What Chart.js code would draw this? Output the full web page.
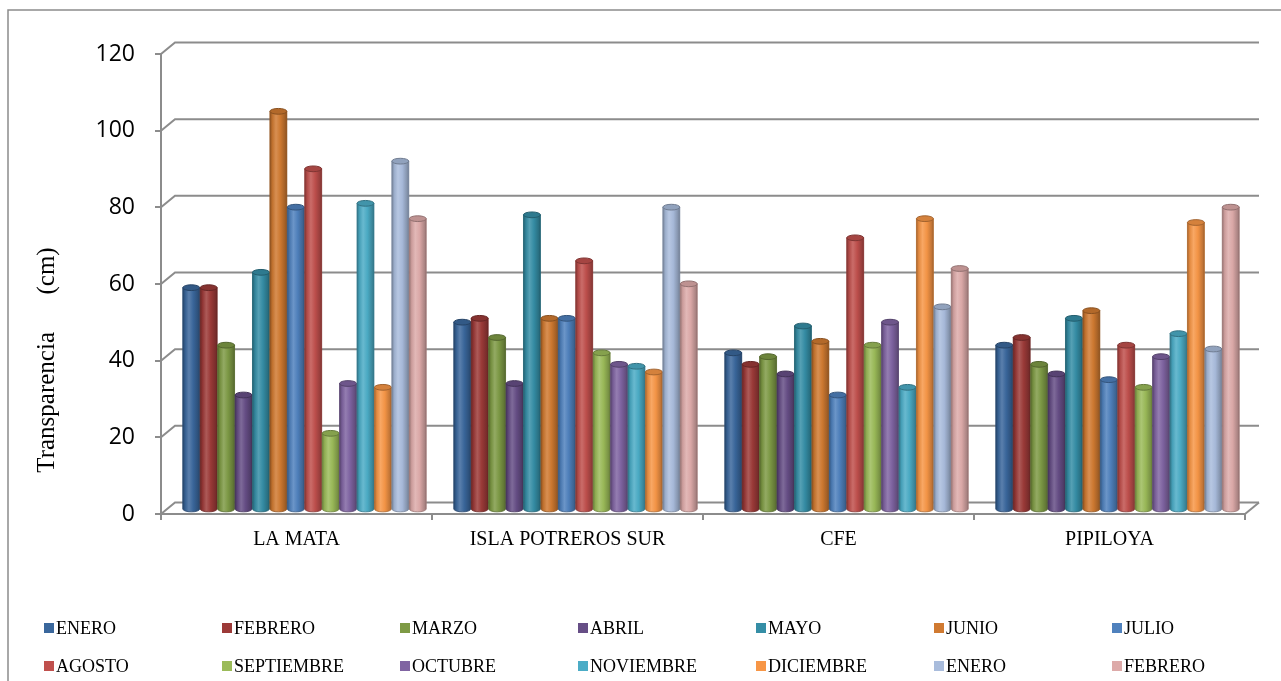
<!DOCTYPE html>
<html lang="es">
<head>
<meta charset="utf-8">
<title>Transparencia por estación</title>
<script src="https://cdn.jsdelivr.net/npm/chart.js@4.4.1/dist/chart.umd.min.js"></script>
<style>
  html, body { margin: 0; padding: 0; background: #ffffff; }
  #wrap { width: 1281px; height: 681px; position: relative; }
  canvas { display: block; }
</style>
</head>
<body>
<div id="wrap"><canvas id="chart" width="1281" height="681"></canvas></div>
<script>
// Estaciones de muestreo (categorías del eje X)
const estaciones = ['LA MATA', 'ISLA POTREROS SUR', 'CFE', 'PIPILOYA'];

// Meses de muestreo (series)
const meses = ['ENERO', 'FEBRERO', 'MARZO', 'ABRIL', 'MAYO', 'JUNIO', 'JULIO',
               'AGOSTO', 'SEPTIEMBRE', 'OCTUBRE', 'NOVIEMBRE', 'DICIEMBRE', 'ENERO', 'FEBRERO'];

// Transparencia (cm) por estación, en el orden de los meses
const laMata          = [58, 58, 43, 30, 62, 104, 79, 89, 20, 33, 80, 32, 91, 76];
const islaPotrerosSur = [49, 50, 45, 33, 77, 50, 50, 65, 41, 38, 37.5, 36, 79, 59];
const cfe             = [41, 38, 40, 35.5, 48, 44, 30, 71, 43, 49, 32, 76, 53, 63];
const pipiloya        = [43, 45, 38, 35.5, 50, 52, 34, 43, 32, 40, 46, 75, 42, 79];

// Marcas del eje Y
const ticksY = [0, 20, 40, 60, 80, 100, 120];

// Colores de cada serie
const coloresMes = ['#3A679C', '#9C3A38', '#7E9A45', '#664E86', '#358EA6', '#D07A31', '#4F81BD',
                    '#C0504D', '#9BBB59', '#8064A2', '#4BACC6', '#F79646', '#A9BCDC', '#DDAAA9'];

const porEstacion = [laMata, islaPotrerosSur, cfe, pipiloya];
const datasets = meses.map((mes, i) => ({
  label: mes,
  data: porEstacion.map(serie => serie[i]),
  backgroundColor: coloresMes[i],
  borderWidth: 0
}));

const GRIS = '#8c8c8c';
const PROF_X = 14, PROF_Y = -11.5;   // profundidad de la pared del fondo
const BARRA_DX = 8, BARRA_DY = -4;   // plano en el que se apoyan los cilindros

function rgb(hex) {
  const n = parseInt(hex.slice(1), 16);
  return [(n >> 16) & 255, (n >> 8) & 255, n & 255];
}
function tono(hex, f) {
  const c = rgb(hex).map(v => f <= 1 ? v * f : v + (255 - v) * (f - 1));
  return 'rgb(' + c.map(v => Math.round(Math.max(0, Math.min(255, v)))).join(',') + ')';
}

const efecto3D = {
  id: 'efecto3D',
  beforeDraw(chart) {
    const ctx = chart.ctx;
    ctx.save();
    ctx.fillStyle = '#ffffff';
    ctx.fillRect(0, 0, chart.width, chart.height);
    ctx.strokeStyle = GRIS;
    ctx.lineWidth = 1.5;
    ctx.beginPath();
    ctx.moveTo(8, chart.height + 2);
    ctx.lineTo(8, 10);
    ctx.lineTo(chart.width + 2, 10);
    ctx.stroke();
    ctx.restore();
  },
  beforeDatasetsDraw(chart) {
    const ctx = chart.ctx;
    const y = chart.scales.y, x = chart.scales.x;
    const izq = chart.chartArea.left, der = chart.chartArea.right;
    const finFondo = der + PROF_X;
    ctx.save();
    ctx.strokeStyle = GRIS;
    ctx.lineWidth = 2;
    ctx.lineJoin = 'miter';
    // Pared del fondo: líneas de división con su diagonal hacia el eje frontal
    y.ticks.forEach(t => {
      const py = y.getPixelForValue(t.value);
      ctx.beginPath();
      ctx.moveTo(izq, py);
      ctx.lineTo(izq + PROF_X, py + PROF_Y);
      ctx.lineTo(finFondo, py + PROF_Y);
      ctx.stroke();
    });
    // Borde derecho del piso
    const base = y.getPixelForValue(0);
    ctx.beginPath();
    ctx.moveTo(der, base);
    ctx.lineTo(der + PROF_X, base + PROF_Y);
    ctx.stroke();
    ctx.restore();

    ctx.save();
    ctx.translate(BARRA_DX, BARRA_DY);
  },
  afterDatasetsDraw(chart) {
    const ctx = chart.ctx;
    chart.data.datasets.forEach((ds, di) => {
      const meta = chart.getDatasetMeta(di);
      const c = ds.backgroundColor;
      meta.data.forEach(el => {
        const p = el.getProps(['x', 'y', 'base', 'width'], true);
        const w = p.width, l = p.x - w / 2, r = p.x + w / 2;
        const ry = Math.max(2, w * 0.17);
        const g = ctx.createLinearGradient(l, 0, r, 0);
        g.addColorStop(0, tono(c, 0.68));
        g.addColorStop(0.14, tono(c, 0.92));
        g.addColorStop(0.36, tono(c, 1.16));
        g.addColorStop(0.62, tono(c, 0.98));
        g.addColorStop(0.9, tono(c, 0.78));
        g.addColorStop(1, tono(c, 0.66));
        // Cuerpo del cilindro
        ctx.beginPath();
        ctx.moveTo(l, p.y);
        ctx.lineTo(l, p.base);
        ctx.ellipse(p.x, p.base, w / 2, ry, 0, Math.PI, 0, true);
        ctx.lineTo(r, p.y);
        ctx.closePath();
        ctx.fillStyle = g;
        ctx.fill();
        ctx.strokeStyle = tono(c, 0.7);
        ctx.lineWidth = 0.8;
        ctx.stroke();
        // Tapa superior
        ctx.beginPath();
        ctx.ellipse(p.x, p.y, w / 2, ry, 0, 0, Math.PI * 2);
        ctx.fillStyle = tono(c, 0.86);
        ctx.fill();
        ctx.strokeStyle = tono(c, 0.66);
        ctx.lineWidth = 1;
        ctx.stroke();
      });
    });
    ctx.restore();
  },
  afterDraw(chart) {
    const ctx = chart.ctx;
    ctx.save();
    // Título del eje Y
    ctx.translate(47, 360);
    ctx.rotate(-Math.PI / 2);
    ctx.font = '25px "Liberation Serif", "Times New Roman", serif';
    ctx.fillStyle = '#000';
    ctx.textAlign = 'center';
    ctx.textBaseline = 'middle';
    ctx.fillText('Transparencia      (cm)', 0, 0);
    ctx.restore();

    // Leyenda en dos filas de siete columnas
    ctx.save();
    ctx.font = '18px "Liberation Serif", "Times New Roman", serif';
    ctx.textBaseline = 'middle';
    ctx.textAlign = 'left';
    chart.data.datasets.forEach((ds, i) => {
      const col = i % 7, fila = Math.floor(i / 7);
      const bx = 44 + col * 178;
      const cy = fila === 0 ? 628 : 666;
      ctx.fillStyle = ds.backgroundColor;
      ctx.fillRect(bx, cy - 5, 10, 10);
      ctx.fillStyle = '#000';
      ctx.fillText(ds.label, bx + 12, cy + 1);
    });
    ctx.restore();
  }
};

new Chart(document.getElementById('chart'), {
  type: 'bar',
  data: { labels: estaciones, datasets },
  options: {
    responsive: false,
    animation: false,
    events: [],
    layout: { padding: { top: 54, right: 36, left: 0, bottom: 0 } },
    datasets: { bar: { categoryPercentage: 0.9, barPercentage: 0.97 } },
    plugins: { legend: { display: false }, tooltip: { enabled: false } },
    scales: {
      x: {
        grid: { drawOnChartArea: false, drawTicks: true, tickLength: 6, color: GRIS, lineWidth: 2 },
        border: { color: GRIS, width: 2 },
        ticks: { color: '#000', padding: 8, font: { family: '"Liberation Serif", "Times New Roman", serif', size: 20 } },
        afterFit(s) { s.height = 167; }
      },
      y: {
        min: 0,
        max: 120,
        afterBuildTicks(s) { s.ticks = ticksY.map(v => ({ value: v })); },
        grid: { drawOnChartArea: false, drawTicks: true, tickLength: 6, color: GRIS, lineWidth: 2 },
        border: { color: GRIS, width: 2 },
        ticks: { color: '#000', padding: 20, font: { family: '"Open Sans", sans-serif', size: 23 } },
        afterFit(s) { s.width = 161; }
      }
    }
  },
  plugins: [efecto3D]
});
</script>
</body>
</html>
